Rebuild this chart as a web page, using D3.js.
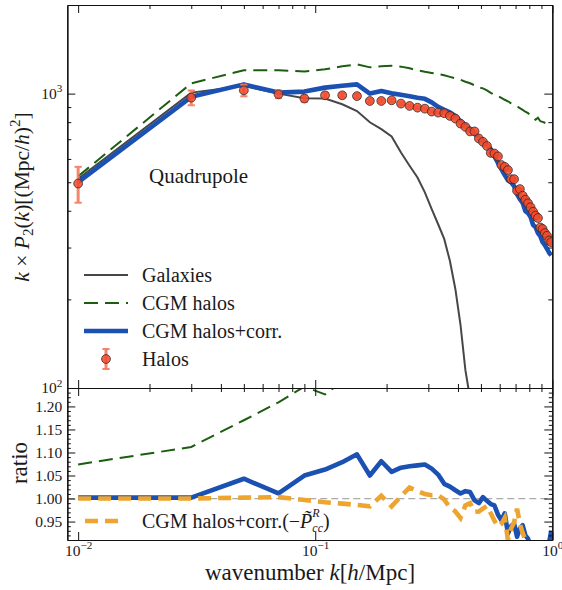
<!DOCTYPE html>
<html>
<head>
<meta charset="utf-8">
<script src="https://cdn.jsdelivr.net/npm/d3@7"></script>
<style>
  body { margin: 0; background: #fff; }
  svg { display: block; }
  text { font-family: "Liberation Serif", "Times New Roman", serif; fill: #1a1a1a; }
</style>
</head>
<body>
<svg id="fig" width="562" height="590"></svg>
<script>
// ---- data: quadrupole k*P2(k) and model ratios, linear k bins ----
const kBins = [0.01, 0.03, 0.05, 0.07, 0.09, 0.11, 0.13, 0.15, 0.17, 0.19,
               0.21, 0.23, 0.25, 0.27, 0.29, 0.31, 0.33, 0.35, 0.37, 0.39,
               0.41, 0.43, 0.45, 0.47, 0.49, 0.51, 0.53, 0.55, 0.57, 0.59,
               0.61, 0.63, 0.65, 0.67, 0.69, 0.71, 0.73, 0.75, 0.77, 0.79,
               0.81, 0.83, 0.85, 0.87, 0.89, 0.91, 0.93, 0.95, 0.97, 0.99];

const halos = [495, 969, 1026, 995, 962, 987, 987, 981, 944, 944,
               949, 925, 908, 896, 889, 869, 862, 858, 840, 823,
               791, 771, 744, 744, 704, 686, 664, 629, 626, 612,
               572, 564, 550, 512, 512, 468, 474, 450, 436, 424,
               411, 397, 385, 378, 351, 347, 336, 329, 317, 313];

const halosErr = [69, 56, 47, 30, 24, 20, 17, 15, 13, 12,
                  11, 10, 9, 8.5, 8, 7.5, 7, 6.6, 6.2, 5.9,
                  5.5, 5.2, 4.9, 4.7, 4.4, 4.2, 4.0, 3.7, 3.6, 3.5,
                  3.2, 3.1, 3.0, 2.8, 2.7, 2.5, 2.5, 2.4, 2.3, 2.2,
                  2.1, 2.0, 1.9, 1.9, 1.7, 1.7, 1.6, 1.6, 1.5, 1.5];

const galaxies = [514, 1008, 1062, 1000, 964, 962, 920, 873, 799, 757,
                  715, 631, 569, 519, 462, 405, 360, 321, 270, 217,
                  164, 115, 92, 70, null, null, null, null, null, null,
                  null, null, null, null, null, null, null, null, null, null,
                  null, null, null, null, null, null, null, null, null, null];

const cgmHalos = [524, 1084, 1200, 1200, 1190, 1209, 1238, 1257, 1228, 1238,
                  1243, 1235, 1219, 1200, 1186, 1176, 1167, 1154, 1140, 1127,
                  1114, 1097, 1084, 1067, 1050, 1042, 1026, 1006, 991, 979,
                  968, 953, 942, 927, 916, 906, 892, 881, 868, 858,
                  844, 828, 815, 828, 806, 802, 796, 790, 787, 781];

const cgmCorr = [500, 975, 1075, 1008, 1016, 1048, 1063, 1075, 1000, 1020,
                 1002, 991, 979, 968, 960, 934, 902, 881, 864, 838,
                 806, 781, 757, 734, 705, 692, 668, 648, 613, 581,
                 554, 529, 508, 500, 485, 456, 438, 425, 399, 393,
                 381, 358, 352, 336, 328, 313, 306, 297, 288, 282];

const ratioCgm = [1.074, 1.112, 1.170, 1.209, 1.243, 1.226, 1.254, 1.28, 1.30, 1.31,
                  1.31, 1.335, 1.343, 1.339, 1.334, 1.353, 1.354, 1.345, 1.357, 1.369,
                  1.408, 1.423, 1.457, 1.434, 1.491, 1.519, 1.545, 1.599, 1.583, 1.600,
                  1.692, 1.690, 1.713, 1.811, 1.789, 1.936, 1.882, 1.958, 1.991, 2.024,
                  2.054, 2.086, 2.117, 2.19, 2.296, 2.311, 2.369, 2.401, 2.483, 2.495];

const ratioCorr = [1.002, 1.002, 1.043, 1.011, 1.050, 1.063, 1.079, 1.096, 1.050, 1.081,
                   1.058, 1.067, 1.070, 1.072, 1.074, 1.065, 1.052, 1.032, 1.026, 1.018,
                   1.011, 1.016, 1.014, 0.996, 0.990, 1.003, 0.995, 0.988, 0.985, 0.965,
                   0.953, 0.968, 0.924, 0.940, 0.946, 0.917, 0.935, 0.942, 0.920, 0.913,
                   0.895, 0.885, 0.880, 0.885, 0.880, 0.875, 0.880, 0.895, 0.905, 0.930];

const ratioCorrPcc = [1.000, 1.000, 1.002, 1.003, 0.997, 0.992, 0.989, 0.986, 0.983, 1.006,
                      0.983, 1.005, 1.024, 1.016, 1.010, 1.007, 1.007, 0.998, 0.980, 0.972,
                      0.958, 0.985, 0.990, 0.971, 0.972, 0.978, 0.984, 0.968, 0.952, 0.939,
                      0.945, 0.958, 0.910, 0.935, 0.948, 0.978, 0.945, 0.925, 0.910, 0.895,
                      0.885, 0.880, 0.875, 0.870, 0.875, 0.880, 0.875, 0.870, 0.880, 0.885];

// ---- ticks and labels ----
const xMajor = [0.01, 0.1, 1];
const xMinor = [0.02, 0.03, 0.04, 0.05, 0.06, 0.07, 0.08, 0.09,
                0.2, 0.3, 0.4, 0.5, 0.6, 0.7, 0.8, 0.9];
const yTopMajor = [100, 1000];
const yTopMinor = [200, 300, 400, 500, 600, 700, 800, 900];
const yBotMajor = [0.95, 1.00, 1.05, 1.10, 1.15, 1.20];
const yBotMinor = [0.92, 0.93, 0.94, 0.96, 0.97, 0.98, 0.99, 1.01, 1.02, 1.03, 1.04,
                   1.06, 1.07, 1.08, 1.09, 1.11, 1.12, 1.13, 1.14, 1.16, 1.17, 1.18, 1.19,
                   1.21, 1.22, 1.23];
const legendTop = ["Galaxies", "CGM halos", "CGM halos+corr.", "Halos"];
const panelLabel = "Quadrupole";

// ---- style ----
const colGal = "#474747", colCgm = "#1c5e10", colCorr = "#1b51b3",
      colPcc = "#eda52f", colHalo = "#f2492a", colErr = "#f5795c";

// ---- layout ----
const L = 67.3, R = 552.3, T = 5, MID = 388, B = 540;

const x = d3.scaleLog().domain([0.009, 1]).range([L, R]);
const yTop = d3.scaleLog().domain([100, 2000]).range([MID, T]);
const yBot = d3.scaleLinear().domain([0.91, 1.24]).range([B, MID]);

const svg = d3.select("#fig");
const defs = svg.append("defs");
defs.append("clipPath").attr("id", "clipTop")
  .append("rect").attr("x", L).attr("y", T).attr("width", R - L).attr("height", MID - T);
defs.append("clipPath").attr("id", "clipBot")
  .append("rect").attr("x", L).attr("y", MID).attr("width", R - L).attr("height", B - MID);

const rows = kBins.map((k, i) => ({
  k, halo: halos[i], err: halosErr[i], gal: galaxies[i], cgm: cgmHalos[i], corr: cgmCorr[i],
  rCgm: ratioCgm[i], rCorr: ratioCorr[i], rPcc: ratioCorrPcc[i]
}));

// ---- upper panel ----
const upper = svg.append("g").attr("clip-path", "url(#clipTop)");
const lineTop = key => d3.line().defined(d => d[key] != null)
  .x(d => x(d.k)).y(d => yTop(d[key]));

upper.append("path").datum(rows).attr("d", lineTop("gal"))
  .attr("fill", "none").attr("stroke", colGal).attr("stroke-width", 2);
upper.append("path").datum(rows).attr("d", lineTop("cgm"))
  .attr("fill", "none").attr("stroke", colCgm).attr("stroke-width", 2)
  .attr("stroke-dasharray", "14,7");
upper.append("path").datum(rows).attr("d", lineTop("corr"))
  .attr("fill", "none").attr("stroke", colCorr).attr("stroke-width", 4.6)
  .attr("stroke-linejoin", "round");

const eb = upper.append("g").attr("stroke", colErr).attr("opacity", 0.9);
eb.selectAll("line.bar").data(rows).join("line").attr("class", "bar")
  .attr("x1", d => x(d.k)).attr("x2", d => x(d.k))
  .attr("y1", d => yTop(d.halo - d.err)).attr("y2", d => yTop(d.halo + d.err))
  .attr("stroke-width", 3);
eb.selectAll("line.capLo").data(rows).join("line").attr("class", "capLo")
  .attr("x1", d => x(d.k) - 3.6).attr("x2", d => x(d.k) + 3.6)
  .attr("y1", d => yTop(d.halo - d.err)).attr("y2", d => yTop(d.halo - d.err))
  .attr("stroke-width", 2);
eb.selectAll("line.capHi").data(rows).join("line").attr("class", "capHi")
  .attr("x1", d => x(d.k) - 3.6).attr("x2", d => x(d.k) + 3.6)
  .attr("y1", d => yTop(d.halo + d.err)).attr("y2", d => yTop(d.halo + d.err))
  .attr("stroke-width", 2);
upper.append("g").selectAll("circle").data(rows).join("circle")
  .attr("cx", d => x(d.k)).attr("cy", d => yTop(d.halo)).attr("r", 4.4)
  .attr("fill", colHalo).attr("fill-opacity", 0.85)
  .attr("stroke", "#3a2a2a").attr("stroke-width", 0.8);

// ---- lower panel ----
const lower = svg.append("g").attr("clip-path", "url(#clipBot)");
const lineBot = key => d3.line().x(d => x(d.k)).y(d => yBot(d[key]));

lower.append("path").datum(x.domain())
  .attr("d", d3.line().x(d => x(d)).y(() => yBot(1)))
  .attr("fill", "none").attr("stroke", "#ababab").attr("stroke-width", 1.3)
  .attr("stroke-dasharray", "7,4");
lower.append("path").datum(rows).attr("d", lineBot("rCgm"))
  .attr("fill", "none").attr("stroke", colCgm).attr("stroke-width", 2)
  .attr("stroke-dasharray", "14,7");
lower.append("path").datum(rows).attr("d", lineBot("rCorr"))
  .attr("fill", "none").attr("stroke", colCorr).attr("stroke-width", 4.6)
  .attr("stroke-linejoin", "round");
lower.append("path").datum(rows).attr("d", lineBot("rPcc"))
  .attr("fill", "none").attr("stroke", colPcc).attr("stroke-width", 4.6)
  .attr("stroke-dasharray", "13,7");

// ---- axes (inward ticks on all sides) ----
function styleAxis(g) {
  g.select(".domain").attr("stroke", "#111").attr("stroke-width", 1.2);
  g.selectAll(".tick line").attr("stroke", "#111").attr("stroke-width", 1);
  g.selectAll(".tick text").attr("font-family", "Liberation Serif, serif")
    .attr("font-size", 15.5).attr("fill", "#1a1a1a");
  return g;
}
function powLabels(g) {
  g.selectAll(".tick text").each(function (d) {
    const t = d3.select(this);
    const e = Math.round(Math.log10(d));
    t.text(null);
    t.append("tspan").text("10");
    t.append("tspan").attr("font-size", "0.72em").attr("dy", "-0.62em")
      .text(e < 0 ? "\u2212" + (-e) : String(e));
  });
}
function axisAt(gen, tx, ty) {
  return svg.append("g").attr("transform", `translate(${tx},${ty})`).call(gen).call(styleAxis);
}
const noLab = () => "";

// upper panel frame
axisAt(d3.axisBottom(x).tickValues(xMajor).tickSize(-8).tickSizeOuter(0).tickFormat(noLab), 0, MID);
axisAt(d3.axisBottom(x).tickValues(xMinor).tickSize(-4).tickSizeOuter(0).tickFormat(noLab), 0, MID);
axisAt(d3.axisTop(x).tickValues(xMajor).tickSize(-8).tickSizeOuter(0).tickFormat(noLab), 0, T);
axisAt(d3.axisTop(x).tickValues(xMinor).tickSize(-4).tickSizeOuter(0).tickFormat(noLab), 0, T);
const yTopAx = axisAt(d3.axisLeft(yTop).tickValues(yTopMajor).tickSize(-8).tickSizeOuter(0).tickPadding(5), L, 0);
powLabels(yTopAx);
axisAt(d3.axisLeft(yTop).tickValues(yTopMinor).tickSize(-4).tickSizeOuter(0).tickFormat(noLab), L, 0);
axisAt(d3.axisRight(yTop).tickValues(yTopMajor).tickSize(-8).tickSizeOuter(0).tickFormat(noLab), R, 0);
axisAt(d3.axisRight(yTop).tickValues(yTopMinor).tickSize(-4).tickSizeOuter(0).tickFormat(noLab), R, 0);

// lower panel frame
axisAt(d3.axisTop(x).tickValues(xMajor).tickSize(-8).tickSizeOuter(0).tickFormat(noLab), 0, MID);
axisAt(d3.axisTop(x).tickValues(xMinor).tickSize(-4).tickSizeOuter(0).tickFormat(noLab), 0, MID);
const xAx = axisAt(d3.axisBottom(x).tickValues(xMajor).tickSize(-8).tickSizeOuter(0).tickPadding(5), 0, B);
powLabels(xAx);
axisAt(d3.axisLeft(yBot).tickValues(yBotMajor).tickSize(-8).tickSizeOuter(0).tickPadding(5)
  .tickFormat(d3.format(".2f")), L, 0);
axisAt(d3.axisLeft(yBot).tickValues(yBotMinor).tickSize(-3.5).tickSizeOuter(0).tickFormat(noLab), L, 0);
axisAt(d3.axisRight(yBot).tickValues(yBotMajor).tickSize(-8).tickSizeOuter(0).tickFormat(noLab), R, 0);
axisAt(d3.axisRight(yBot).tickValues(yBotMinor).tickSize(-3.5).tickSizeOuter(0).tickFormat(noLab), R, 0);

// ---- axis titles ----
const yl = svg.append("text").attr("transform", "translate(29,197) rotate(-90)")
  .attr("text-anchor", "middle").attr("font-size", 21.5);
yl.append("tspan").attr("font-style", "italic").text("k");
yl.append("tspan").text(" \u00d7 ");
yl.append("tspan").attr("font-style", "italic").text("P");
yl.append("tspan").attr("font-size", 15).attr("dy", 4).text("2");
yl.append("tspan").attr("dy", -4).text("(");
yl.append("tspan").attr("font-style", "italic").text("k");
yl.append("tspan").text(")[(Mpc/");
yl.append("tspan").attr("font-style", "italic").text("h");
yl.append("tspan").text(")");
yl.append("tspan").attr("font-size", 15).attr("dy", -9).text("2");
yl.append("tspan").attr("dy", 9).text("]");

svg.append("text").attr("transform", "translate(26.5,463) rotate(-90)")
  .attr("text-anchor", "middle").attr("font-size", 23).text("ratio");

const xl = svg.append("text").attr("x", 310).attr("y", 580)
  .attr("text-anchor", "middle").attr("font-size", 23);
xl.append("tspan").text("wavenumber ");
xl.append("tspan").attr("font-style", "italic").text("k");
xl.append("tspan").text("[");
xl.append("tspan").attr("font-style", "italic").text("h");
xl.append("tspan").text("/Mpc]");

// ---- panel label ----
svg.append("text").attr("x", 149).attr("y", 183).attr("font-size", 21).text(panelLabel);

// ---- legends ----
const lg = svg.append("g");
const lgX0 = 84, lgX1 = 128, lgTextX = 142, lgY = [275, 303, 331, 359];
lg.append("line").attr("x1", lgX0).attr("x2", lgX1).attr("y1", lgY[0]).attr("y2", lgY[0])
  .attr("stroke", colGal).attr("stroke-width", 2);
lg.append("line").attr("x1", lgX0).attr("x2", lgX1).attr("y1", lgY[1]).attr("y2", lgY[1])
  .attr("stroke", colCgm).attr("stroke-width", 2).attr("stroke-dasharray", "14,7");
lg.append("line").attr("x1", lgX0).attr("x2", lgX1).attr("y1", lgY[2]).attr("y2", lgY[2])
  .attr("stroke", colCorr).attr("stroke-width", 4.6);
const hx = (lgX0 + lgX1) / 2;
lg.append("line").attr("x1", hx).attr("x2", hx).attr("y1", lgY[3] - 10).attr("y2", lgY[3] + 10)
  .attr("stroke", colErr).attr("stroke-width", 3).attr("opacity", 0.9);
[lgY[3] - 10, lgY[3] + 10].forEach(yy => lg.append("line")
  .attr("x1", hx - 3.6).attr("x2", hx + 3.6).attr("y1", yy).attr("y2", yy)
  .attr("stroke", colErr).attr("stroke-width", 2).attr("opacity", 0.9));
lg.append("circle").attr("cx", hx).attr("cy", lgY[3]).attr("r", 4.4)
  .attr("fill", colHalo).attr("fill-opacity", 0.85).attr("stroke", "#3a2a2a").attr("stroke-width", 0.8);
legendTop.forEach((s, i) => lg.append("text").attr("x", lgTextX).attr("y", lgY[i] + 7)
  .attr("font-size", 20).text(s));

// lower legend
const bl = svg.append("g");
bl.append("line").attr("x1", 85).attr("x2", 123).attr("y1", 521).attr("y2", 521)
  .attr("stroke", colPcc).attr("stroke-width", 4.6).attr("stroke-dasharray", "13,7");
const bt = bl.append("text").attr("x", 142).attr("y", 528).attr("font-size", 20);
bt.append("tspan").text("CGM halos+corr.(\u2212");
bt.append("tspan").attr("font-style", "italic").text("P\u0303");
bt.append("tspan").attr("font-style", "italic").attr("font-size", 12).attr("dy", -11).text("R");
bt.append("tspan").attr("font-style", "italic").attr("font-size", 12).attr("dx", -7.3).attr("dy", 15).text("cc");
bt.append("tspan").attr("dy", -4).text(")");
</script>
</body>
</html>
